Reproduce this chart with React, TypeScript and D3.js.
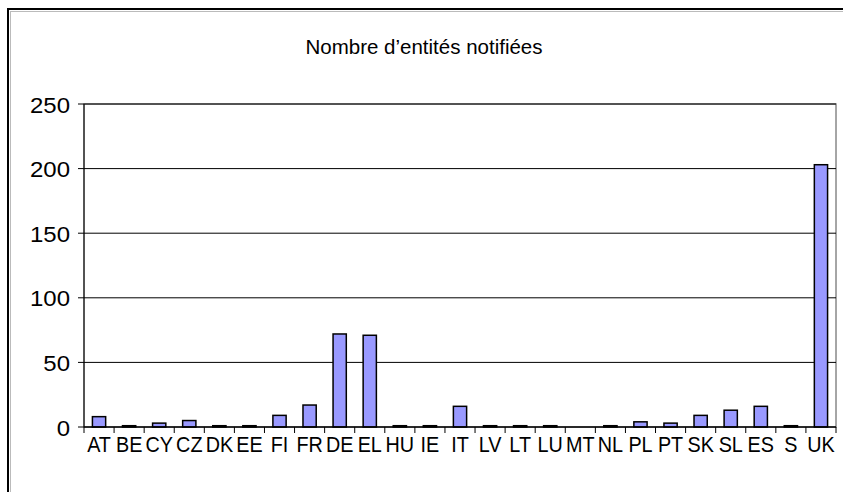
import * as d3 from 'd3'

const categories = ['AT', 'BE', 'CY', 'CZ', 'DK', 'EE', 'FI', 'FR', 'DE', 'EL', 'HU', 'IE', 'IT', 'LV', 'LT', 'LU', 'MT', 'NL', 'PL', 'PT', 'SK', 'SL', 'ES', 'S', 'UK']
const values = [8, 1, 3, 5, 1, 1, 9, 17, 72, 71, 1, 1, 16, 1, 1, 1, 0, 1, 4, 3, 9, 13, 16, 1, 203]
const yTicks = [0, 50, 100, 150, 200, 250]
const title = 'Nombre d\u2019entités notifiées'

const W = 843
const H = 492
const plot = { left: 84, right: 836, top: 104, bottom: 427 }
const font = '"Liberation Sans", Arial, sans-serif'

export default function App() {
  const x = d3.scaleBand<string>()
    .domain(categories)
    .range([plot.left, plot.right])
    .paddingInner(0.56)
    .paddingOuter(0.28)
  const band = d3.scaleBand<string>().domain(categories).range([plot.left, plot.right])
  const y = d3.scaleLinear().domain([0, 250]).range([plot.bottom, plot.top])

  return (
    <svg width={W} height={H} style={{ position: 'absolute', left: 0, top: 0, background: '#fff' }}>
      {/* outer chart frame */}
      <line x1={8} x2={8} y1={8} y2={H} stroke="#000" strokeWidth={2} />
      <line x1={7} x2={W} y1={9} y2={9} stroke="#000" strokeWidth={2} />
      <line x1={10.5} x2={10.5} y1={11} y2={H} stroke="#bbb" strokeWidth={1} />
      <line x1={10} x2={W} y1={11.5} y2={11.5} stroke="#bbb" strokeWidth={1} />

      <text x={424} y={54} textAnchor="middle" fontFamily={font} fontSize={20.5} fill="#000">{title}</text>

      {/* plot area border */}
      <rect x={plot.left} y={plot.top} width={plot.right - plot.left} height={plot.bottom - plot.top}
        fill="none" stroke="#888" strokeWidth={1.5} />

      {/* gridlines + y axis */}
      {yTicks.map(t => (
        <g key={t}>
          {t > 0 && <line x1={plot.left} x2={plot.right} y1={y(t)} y2={y(t)} stroke="#000" strokeWidth={1} />}
          <line x1={plot.left - 6} x2={plot.left} y1={y(t)} y2={y(t)} stroke="#000" strokeWidth={1} />
          <text transform={`translate(70,${y(t) + 8.5}) scale(1.09,1)`} textAnchor="end"
            fontFamily={font} fontSize={22} fill="#000">{t}</text>
        </g>
      ))}
      <line x1={plot.left} x2={plot.left} y1={plot.top} y2={plot.bottom} stroke="#000" strokeWidth={1} />

      {/* bars */}
      {categories.map((c, i) => values[i] > 0 && (
        <rect key={c} x={x(c)!} y={y(values[i])} width={x.bandwidth()} height={y(0) - y(values[i])}
          fill="#9999ff" stroke="#000" strokeWidth={1.5} />
      ))}

      {/* x axis */}
      <line x1={plot.left} x2={plot.right} y1={plot.bottom} y2={plot.bottom} stroke="#000" strokeWidth={1.5} />
      {categories.concat(['']).map((c, i) => {
        const tx = plot.left + i * band.bandwidth()
        return <line key={'t' + i} x1={tx} x2={tx} y1={plot.bottom} y2={plot.bottom + 6} stroke="#000" strokeWidth={1} />
      })}
      {categories.map(c => (
        <text key={'l' + c} transform={`translate(${band(c)! + band.bandwidth() / 2},452) scale(0.9,1)`}
          textAnchor="middle" fontFamily={font} fontSize={22} fill="#000">{c}</text>
      ))}
    </svg>
  )
}
